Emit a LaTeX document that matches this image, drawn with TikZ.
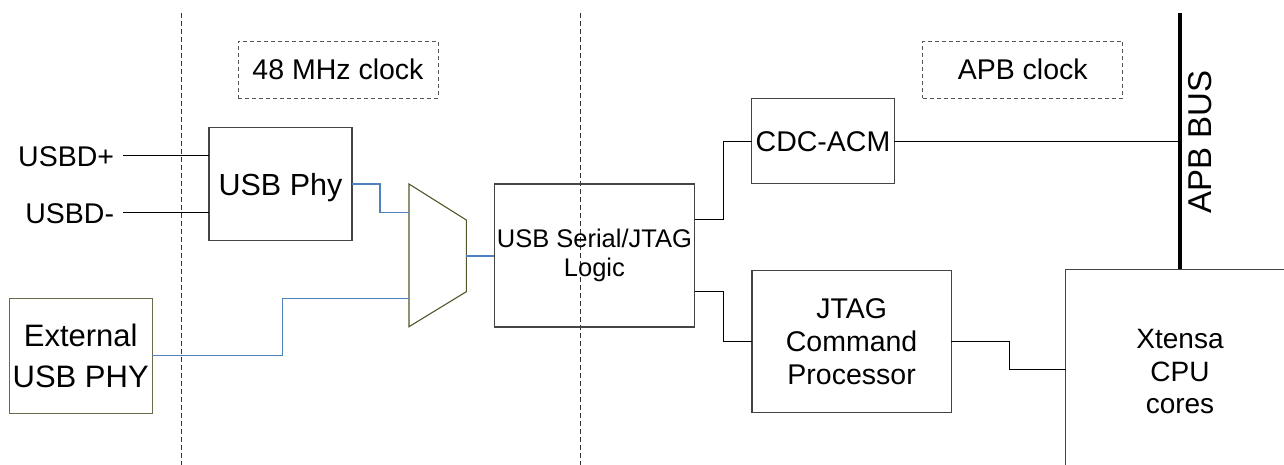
\documentclass[tikz,border=0pt]{standalone}
\usepackage{fontspec}
\setmainfont{Liberation Sans}
\definecolor{boxgray}{HTML}{444444}
\definecolor{dashgray}{HTML}{555555}
\definecolor{wireblue}{HTML}{4F81BD}
\definecolor{olive}{HTML}{55552B}
\definecolor{extcol}{HTML}{6B6B4B}
\newcommand\fsz[2]{\fontsize{#1pt}{#2pt}\selectfont}
\begin{document}
\begin{tikzpicture}[x=1pt,y=-1pt,
  box/.style={draw=boxgray, line width=1.1pt, inner sep=0pt, outer sep=0pt, align=center, font=\fsz{28.5}{33}},
  clkbox/.style={draw=dashgray, line width=0.9pt, dash pattern=on 4pt off 3pt, inner sep=0pt, outer sep=0pt, font=\fsz{28.5}{33}},
  dashline/.style={draw=black!80, line width=0.8pt, dash pattern=on 5pt off 3pt},
  wire/.style={draw=black, line width=0.9pt},
  bwire/.style={draw=wireblue, line width=1.1pt},
  lbl/.style={inner sep=0pt, outer sep=0pt, align=center, font=\fsz{28.5}{33}}
]
\useasboundingbox (0,0) rectangle (1284,465);

% dashed separators
\coordinate (d1t) at (181,13);
\coordinate (d1b) at (181,465);
\coordinate (d2t) at (580,13);
\coordinate (d2b) at (580,465);
\draw[dashline] (d1t) -- (d1b);
\draw[dashline] (d2t) -- (d2b);

% clock boxes
\node[clkbox, minimum width=200pt, minimum height=57pt] (clk48) at (338,69.5) {48 MHz clock};
\node[clkbox, minimum width=200pt, minimum height=57pt] (apbclk) at (1022.7,69.5) {APB clock};

% blocks
\node[box, minimum width=143pt, minimum height=113pt, font=\fsz{30.5}{35}, text depth=0pt] (phy) at (280.5,184) {USB Phy};
\node[box, draw=extcol, minimum width=142.7pt, minimum height=115pt, font=\fsz{31}{41}] (ext) at (80.7,355.8) {External\\USB PHY};
\node[box, minimum width=200.2pt, minimum height=143pt, font=\fsz{25.5}{28.5}] (ser) at (594.4,255.5) {USB Serial/JTAG\\Logic};
\node[box, minimum width=142.5pt, minimum height=85.7pt, text depth=0pt] (cdc) at (823,141.1) {CDC-ACM};
\node[box, minimum width=199.3pt, minimum height=142.2pt] (jtag) at (851.6,341.6) {JTAG\\Command\\Processor};

% USBD labels and lines
\node[lbl, anchor=east] (usbdp) at (114,156.5) {USBD+};
\node[lbl, anchor=east] (usbdm) at (114,213.5) {USBD-};
\coordinate (dp) at (123,155);
\coordinate (dm) at (123,212.3);
\draw[wire] (dp) -- (dp -| phy.west);
\draw[wire] (dm) -- (dm -| phy.west);

% mux
\coordinate (mux1) at (409,184);
\coordinate (mux2) at (466.3,220);
\coordinate (mux3) at (466.3,291.7);
\coordinate (mux4) at (409,326.7);
\draw[draw=olive, line width=1.1pt] (mux1) -- (mux2) -- (mux3) -- (mux4) -- cycle;
\coordinate (min1) at (409,212.7);
\coordinate (min2) at (409,298.3);
\coordinate (mout) at (466.3,256);

% blue wires
\draw[bwire] (phy.east) -- ++(28,0) |- (min1);
\draw[bwire] (ext.east) -- ++(130,0) |- (min2);
\draw[bwire] (mout) -- (mout -| ser.west);

% black wires
\draw[wire] ([yshift=-35.3pt]ser.north east) -- ++(28.5,0) |- (cdc.west);
\draw[wire] ([yshift=35.7pt]ser.south east) -- ++(28.5,0) |- (jtag.west);

% APB bus
\coordinate (bustop) at (1180,13);
\coordinate (busbot) at (1180,269.5);
\draw[line width=4.5pt] (bustop) -- (busbot);
\node[lbl, rotate=90, font=\fsz{33}{38}] (apbbus) at (1200,142) {APB BUS};
\draw[wire] (cdc.east) -- (cdc.east -| bustop);

% Xtensa CPU cores (open box)
\draw[draw=boxgray, line width=1.1pt] (1284,269.5) -- (1065.5,269.5) -- (1065.5,465);
\node[lbl, font=\fsz{28}{32.5}] (xt) at (1180,372) {Xtensa\\CPU\\cores};
\coordinate (xtin) at (1065.5,369.5);
\draw[wire] (jtag.east) -- ++(57.7,0) |- (xtin);

\end{tikzpicture}
\end{document}
